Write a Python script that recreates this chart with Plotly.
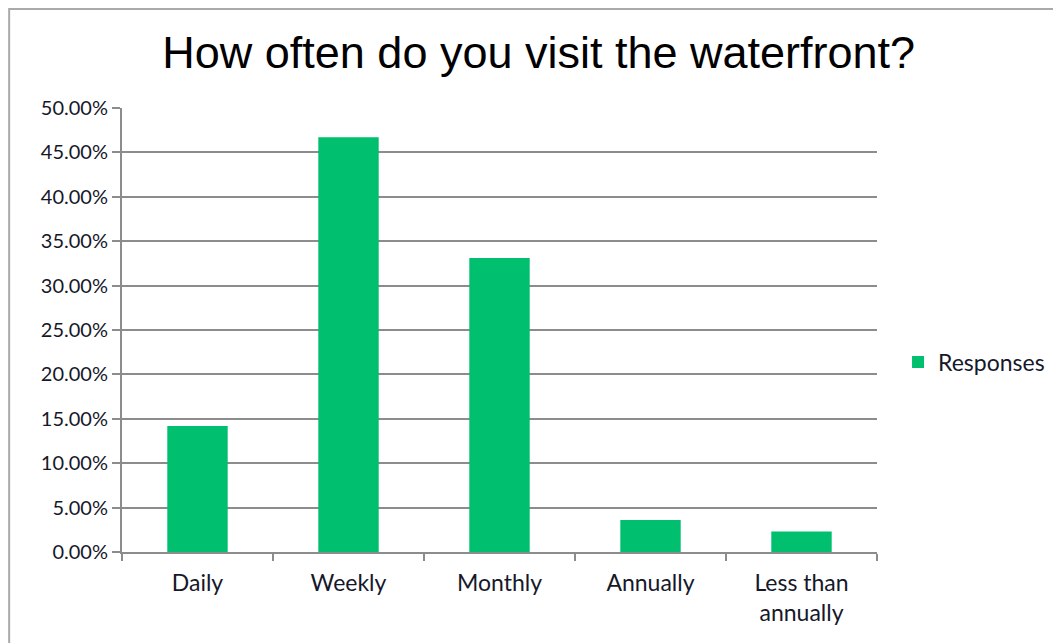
import plotly.graph_objects as go

categories = ["Daily", "Weekly", "Monthly", "Annually", "Less than<br>annually"]
values = [0.142, 0.467, 0.331, 0.036, 0.023]
series_name = "Responses"
title_text = "How often do you visit the waterfront?"

GREEN = "#00bf6f"
GRID = "#8c8c8c"
TXT = "#16182a"
FONT = "Lato, 'Open Sans', sans-serif"

W, H = 1053, 635
L, R, T, B = 114, 183, 100, 91

fig = go.Figure()
fig.add_trace(go.Bar(x=categories, y=values, name=series_name,
                     marker=dict(color=GREEN, line=dict(width=0))))

fig.update_layout(
    width=W, height=H,
    margin=dict(l=L, r=R, t=T, b=B),
    paper_bgcolor="white", plot_bgcolor="white",
    bargap=0.6,
    showlegend=True,
    title=dict(text=title_text, x=0.504, xanchor="center", y=0.93, yanchor="middle",
               font=dict(family="'Liberation Sans', Arial, sans-serif", size=45, color="black")),
    legend=dict(x=1.0265, y=0.428, xanchor="left", yanchor="middle",
                font=dict(family=FONT, size=23, color=TXT),
                itemwidth=30, bgcolor="rgba(0,0,0,0)"),
    xaxis=dict(showgrid=False, showline=True, linecolor=GRID, linewidth=2,
               ticks="outside", tickson="boundaries", ticklen=7, tickwidth=1.5, tickcolor=GRID,
               tickfont=dict(family=FONT, size=23, color=TXT),
               ticklabelstandoff=9),
    yaxis=dict(range=[0, 0.5], dtick=0.05, tickformat=".2%",
               showgrid=True, gridcolor=GRID, gridwidth=1.5,
               showline=True, linecolor=GRID, linewidth=2,
               ticks="outside", ticklen=8, tickwidth=1.5, tickcolor=GRID,
               tickfont=dict(family=FONT, size=20, color=TXT),
               zeroline=False),
)

# outer chart border (top and left edges visible)
pw, ph = W - L - R, H - T - B
bx0 = (1 - L) / pw
by1 = 1 + (T - 1) / ph
fig.add_shape(type="rect", xref="paper", yref="paper",
              x0=bx0, y0=-0.5, x1=1.6, y1=by1,
              line=dict(color="#aaaaaa", width=2), fillcolor="rgba(0,0,0,0)", layer="below")

fig.write_html("out.html")
